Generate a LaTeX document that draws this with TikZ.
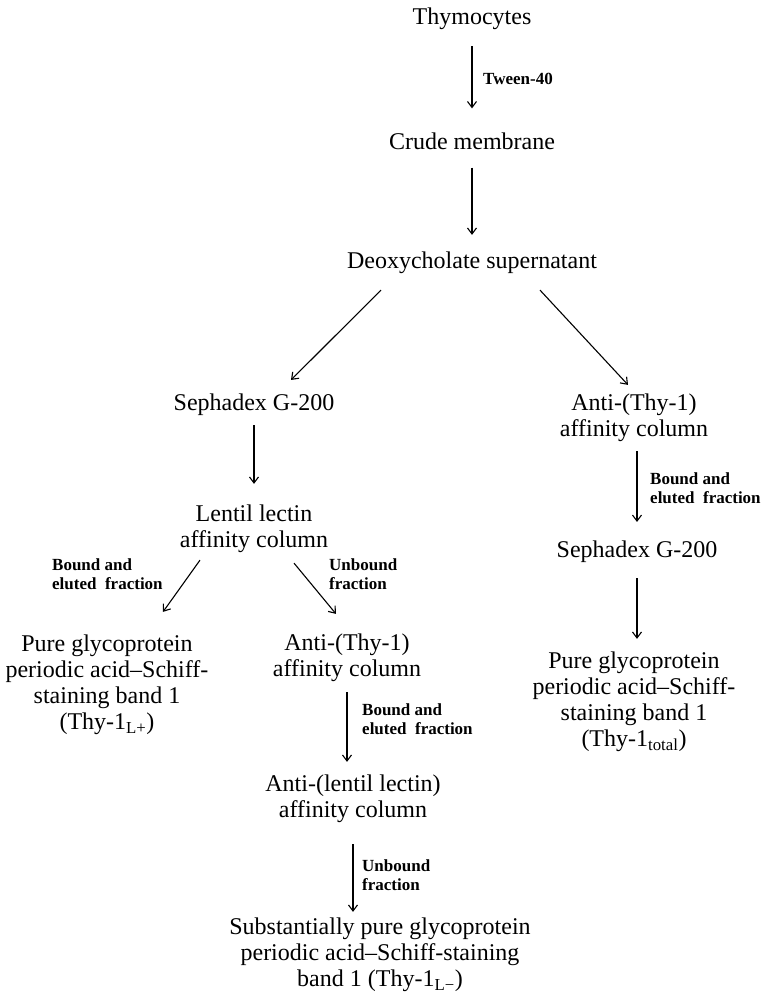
\documentclass[tikz,border=0pt]{standalone}
\usepackage{fontspec}
\setmainfont{Liberation Serif}
\usetikzlibrary{arrows.meta,positioning,calc}

\begin{document}
\begin{tikzpicture}[x=1pt, y=-1pt,
  stage/.style={align=center, inner sep=0pt, font=\fontsize{24}{26}\selectfont},
  note/.style={align=left, inner sep=0pt, anchor=west, font=\fontsize{17}{18.5}\selectfont\bfseries},
  flow/.style={-{Straight Barb[length=6pt,width=9pt]}, line width=1.1pt}
]
  \useasboundingbox (0,0) rectangle (763,997);
  % main column
  \node[stage] (thym) at (472, 19) {Thymocytes};
  \node[stage] (crude) at (472, 141) {Crude membrane};
  \node[stage] (deoxy) at (472, 263) {Deoxycholate supernatant};
  \draw[flow] ($(thym.south)+(0,16)$) -- ($(crude.north)+(0,-24)$);
  \node[note] (tween) at (483, 79) {Tween-40};
  \draw[flow] ($(crude.south)+(0,18)$) -- ($(deoxy.north)+(0,-17)$);
  % lentil branch
  \node[stage] (sephL) at (254, 405) {Sephadex G-200};
  \node[stage] (lentil) at (254, 529) {Lentil lectin\\affinity column};
  \node[stage] (pureL) at (107, 685) {Pure glycoprotein\\periodic acid--Schiff-\\staining band 1\\(Thy-1\textsubscript{L+})};
  \node[stage] (antiT) at (347, 658) {Anti-(Thy-1)\\affinity column};
  \node[stage] (antiL) at (353, 799) {Anti-(lentil lectin)\\affinity column};
  \node[stage] (subst) at (380, 955) {Substantially pure glycoprotein\\periodic acid--Schiff-staining\\band 1 (Thy-1\textsubscript{L−})};
  \draw[flow] ($(deoxy.south)+(-91,16)$) -- ($(sephL.north)+(37,-14)$);
  \draw[flow] ($(sephL.south)+(0,9)$) -- ($(lentil.north)+(0,-21)$);
  \draw[flow] ($(lentil.south)+(-54,7)$) -- ($(pureL.north)+(56,-23)$);
  \node[note] (boundA) at (52, 574) {Bound and\\eluted\ \ fraction};
  \draw[flow] ($(lentil.south)+(40,10)$) -- ($(antiT.north)+(-11,-20)$);
  \node[note] (unbA) at (329, 574) {Unbound\\fraction};
  \draw[flow] ($(antiT.south)+(0,10)$) -- ($(antiT.south |- antiL.north)+(0,-13)$);
  \node[note] (boundB) at (362, 719) {Bound and\\eluted\ \ fraction};
  \draw[flow] ($(antiL.south)+(0,21)$) -- ($(antiL.south |- subst.north)+(0,-6)$);
  \node[note] (unbB) at (362, 875) {Unbound\\fraction};
  % thy-1 branch
  \node[stage] (antiR) at (634, 418) {Anti-(Thy-1)\\affinity column};
  \node[stage] (sephR) at (637, 552) {Sephadex G-200};
  \node[stage] (pureR) at (634, 702) {Pure glycoprotein\\periodic acid--Schiff-\\staining band 1\\(Thy-1\textsubscript{total})};
  \draw[flow] ($(deoxy.south)+(68,16)$) -- ($(antiR.north)+(-6,-9)$);
  \draw[flow] ($(sephR.north |- antiR.south)+(0,9)$) -- ($(sephR.north)+(0,-19)$);
  \node[note] (boundC) at (650, 488) {Bound and\\eluted\ \ fraction};
  \draw[flow] ($(sephR.south)+(0,15)$) -- ($(sephR.south |- pureR.north)+(0,-13)$);
\end{tikzpicture}
\end{document}
